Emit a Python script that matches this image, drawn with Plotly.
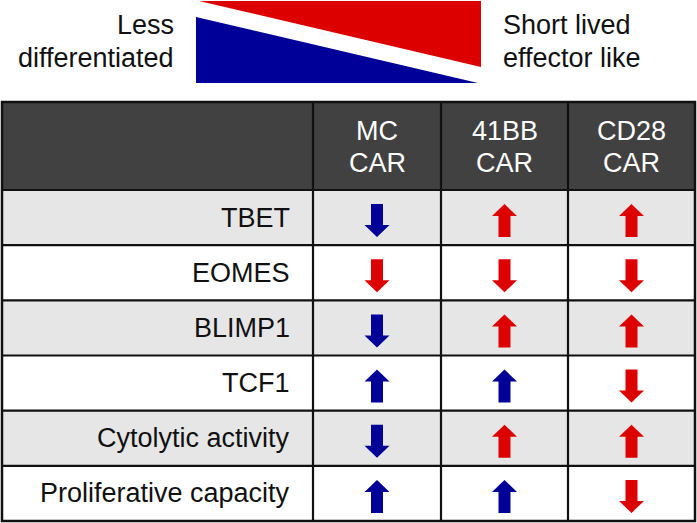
import plotly.graph_objects as go

# ---------------- data ----------------
row_labels = ["TBET", "EOMES", "BLIMP1", "TCF1", "Cytolytic activity", "Proliferative capacity"]
col_labels = ["MC<br>CAR", "41BB<br>CAR", "CD28<br>CAR"]
# +1 = up arrow, -1 = down arrow  (rows x columns)
directions = [
    [-1, 1, 1],
    [-1, -1, -1],
    [-1, 1, 1],
    [1, 1, -1],
    [-1, 1, 1],
    [1, 1, -1],
]
arrow_colors = [
    ["blue", "red", "red"],
    ["red", "red", "red"],
    ["blue", "red", "red"],
    ["blue", "blue", "red"],
    ["blue", "red", "red"],
    ["blue", "blue", "red"],
]
legend_left = "Less<br>differentiated"
legend_right = "Short lived<br>effector like"

# ---------------- styling / layout ----------------
W, H = 697, 523
BLUE = "#000099"
RED = "#dd0000"
COLOR_MAP = {"blue": BLUE, "red": RED}
HEADER_BG = "#414141"
SHADE_BG = "#e6e6e6"
FONT = "Liberation Sans, Arial, Helvetica, sans-serif"
FS = 27
LINE_GAP = 32.5

T_LEFT, T_RIGHT = 2, 695
T_TOP, H_BOTTOM, T_BOTTOM = 102, 190, 521
col_edges = [T_LEFT, 313, 441, 568, T_RIGHT]
n_rows = len(row_labels)
row_h = (T_BOTTOM - H_BOTTOM) / n_rows

fig = go.Figure()
shapes = []
annotations = []


def multiline(text, x, yc, xanchor, color):
    lines = text.split("<br>")
    n = len(lines)
    for k, ln in enumerate(lines):
        y = yc + (k - (n - 1) / 2) * LINE_GAP
        annotations.append(dict(x=x, y=y, xref="x", yref="y", text=ln, showarrow=False,
                                xanchor=xanchor, yanchor="middle", align=xanchor if xanchor != "center" else "center",
                                font=dict(family=FONT, size=FS, color=color)))


# header background
shapes.append(dict(type="rect", xref="x", yref="y", x0=T_LEFT, x1=T_RIGHT, y0=T_TOP, y1=H_BOTTOM,
                   fillcolor=HEADER_BG, line=dict(width=0), layer="below"))
# row backgrounds
for i in range(n_rows):
    y0 = H_BOTTOM + i * row_h
    shapes.append(dict(type="rect", xref="x", yref="y", x0=T_LEFT, x1=T_RIGHT, y0=y0, y1=y0 + row_h,
                       fillcolor=SHADE_BG if i % 2 == 0 else "white", line=dict(width=0), layer="below"))
# horizontal lines
for i in range(n_rows):
    y = H_BOTTOM + i * row_h
    shapes.append(dict(type="line", xref="x", yref="y", x0=T_LEFT, x1=T_RIGHT, y0=y, y1=y,
                       line=dict(color="#111111", width=2.2), layer="below"))
# vertical lines
for x in col_edges[1:-1]:
    shapes.append(dict(type="line", xref="x", yref="y", x0=x, x1=x, y0=T_TOP, y1=T_BOTTOM,
                       line=dict(color="#111111", width=2.2), layer="below"))
# outer border
shapes.append(dict(type="rect", xref="x", yref="y", x0=T_LEFT, x1=T_RIGHT, y0=T_TOP, y1=T_BOTTOM,
                   fillcolor="rgba(0,0,0,0)", line=dict(color="#111111", width=2.5), layer="below"))

# header labels
for j, lab in enumerate(col_labels):
    cx = (col_edges[j + 1] + col_edges[j + 2]) / 2
    multiline(lab, cx, (T_TOP + H_BOTTOM) / 2 + 1, "center", "white")
# row labels
for i, lab in enumerate(row_labels):
    cy = H_BOTTOM + (i + 0.5) * row_h
    multiline(lab, col_edges[1] - 21, cy, "right", "#111111")


# arrows
def arrow_xy(cx, cy, d):
    tip = cy - d * 16.5
    base = cy - d * 4.5
    tail = cy + d * 16.5
    xs = [cx, cx + 12.5, cx + 6, cx + 6, cx - 6, cx - 6, cx - 12.5, cx, None]
    ys = [tip, base, base, tail, tail, base, base, tip, None]
    return xs, ys


groups = {"blue": ([], []), "red": ([], [])}
for i in range(n_rows):
    cy = H_BOTTOM + (i + 0.5) * row_h + 3
    for j in range(len(col_labels)):
        cx = (col_edges[j + 1] + col_edges[j + 2]) / 2
        xs, ys = arrow_xy(cx, cy, directions[i][j])
        groups[arrow_colors[i][j]][0].extend(xs)
        groups[arrow_colors[i][j]][1].extend(ys)
for cname, (xs, ys) in groups.items():
    fig.add_trace(go.Scatter(x=xs, y=ys, mode="lines", fill="toself",
                             fillcolor=COLOR_MAP[cname], line=dict(width=0, color=COLOR_MAP[cname]),
                             hoverinfo="skip", showlegend=False))

# legend wedges
fig.add_trace(go.Scatter(x=[196, 196, 478, 196], y=[17, 83, 83, 17], mode="lines", fill="toself",
                         fillcolor=BLUE, line=dict(width=0, color=BLUE), hoverinfo="skip", showlegend=False))
fig.add_trace(go.Scatter(x=[199, 481, 481, 199], y=[1, 1, 67, 1], mode="lines", fill="toself",
                         fillcolor=RED, line=dict(width=0, color=RED), hoverinfo="skip", showlegend=False))
multiline(legend_left, 176, 41.5, "right", "#111111")
multiline(legend_right, 501, 41.5, "left", "#111111")

fig.update_layout(
    width=W, height=H,
    margin=dict(l=0, r=0, t=0, b=0),
    paper_bgcolor="white", plot_bgcolor="white",
    xaxis=dict(range=[0, W], visible=False, fixedrange=True),
    yaxis=dict(range=[H, 0], visible=False, fixedrange=True),
    shapes=shapes, annotations=annotations,
    showlegend=False,
)

fig.write_html("out.html", config={"displayModeBar": False},
               post_script="document.body.style.margin='0';document.body.style.padding='0';"
                           "document.body.style.overflow='hidden';")
